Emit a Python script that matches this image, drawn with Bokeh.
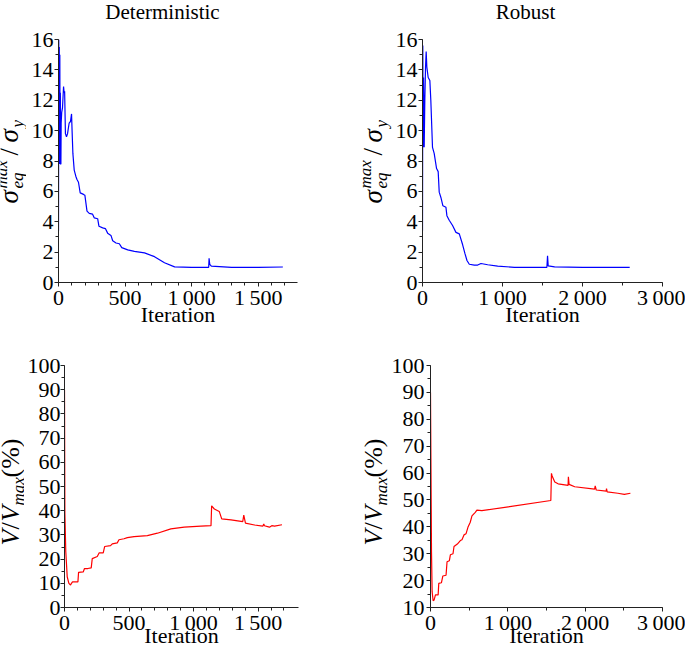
import math
from bokeh.plotting import figure
from bokeh.layouts import column, row
from bokeh.models import Range1d, FixedTicker, Label
from bokeh.embed import file_html
from bokeh.resources import INLINE

FONT = "Liberation Serif"

# ---------------- data ----------------
det_stress_it = [0, 2, 4, 6, 8, 10, 12, 14, 16, 18, 20, 24, 30, 38, 42, 46, 52, 60, 68, 80,
                 90, 98, 102, 108, 118, 130, 138, 150, 163, 188, 198, 214, 231, 256, 269, 294,
                 304, 332, 352, 369, 394, 407, 432, 457, 475, 520, 570, 646, 721, 796, 872,
                 1000, 1128, 1131, 1136, 1148, 1300, 1500, 1685]
det_stress = [3.4, 16.0, 8.0, 15.5, 7.8, 15.0, 8.0, 12.5, 7.8, 7.8, 10.5, 11.2, 11.5, 12.9,
              12.5, 12.6, 9.8, 9.6, 9.8, 10.5, 10.6, 11.1, 10.0, 8.5, 7.4, 7.0, 6.8, 6.6, 5.9,
              5.8, 5.75, 4.7, 4.55, 4.5, 4.25, 4.2, 3.7, 3.6, 3.55, 3.25, 3.1, 2.75, 2.6, 2.55,
              2.3, 2.15, 2.05, 1.95, 1.7, 1.3, 1.03, 1.0, 1.0, 1.6, 1.2, 1.08, 1.0, 1.0, 1.02]

rob_stress_it = [0, 4, 8, 13, 21, 29, 38, 46, 54, 71, 92, 104, 125, 146, 176, 196, 209, 230,
                 255, 293, 305, 334, 376, 418, 460, 501, 531, 556, 585, 648, 690, 731, 815, 940,
                 1149, 1555, 1563, 1571, 1651, 2000, 2300, 2590]
rob_stress = [3.4, 15.6, 8.9, 13.5, 8.9, 12.0, 14.2, 15.2, 14.2, 13.5, 13.3, 12.0, 8.9, 8.5,
              7.5, 7.3, 5.95, 5.6, 5.05, 4.95, 4.4, 4.1, 3.75, 3.3, 3.2, 2.5, 1.9, 1.45, 1.2,
              1.15, 1.15, 1.25, 1.17, 1.08, 1.0, 1.0, 1.76, 1.1, 1.03, 1.0, 1.0, 1.0]

det_vol_it = [0, 3, 10, 21, 34, 47, 54, 62, 85, 104, 109, 145, 155, 181, 207, 215, 254, 269,
              300, 311, 357, 370, 409, 422, 461, 487, 539, 642, 720, 824, 927, 1057, 1135,
              1140, 1161, 1199, 1218, 1290, 1381, 1389, 1402, 1472, 1536, 1544, 1549, 1588,
              1606, 1627, 1685]
det_vol = [90, 39, 23, 12.7, 10, 9.3, 10, 10.6, 10.6, 10.6, 14.5, 14.7, 16.1, 16.1, 16.4,
           20.2, 21.1, 22.6, 22.6, 25.2, 25.6, 26.3, 26.7, 28, 28.4, 28.9, 29.3, 29.7, 30.7,
           32.5, 33.2, 33.6, 33.8, 42, 40.7, 39.7, 36.6, 36.2, 35.5, 38.2, 34.9, 34.1, 33.6,
           34.5, 33.8, 33.2, 33.8, 33.6, 34.2]

rob_vol_it = [0, 13, 21, 34, 47, 64, 99, 107, 141, 159, 201, 214, 244, 257, 291, 304, 347,
              386, 407, 433, 459, 484, 514, 536, 579, 600, 664, 1556, 1564, 1573, 1607, 1650,
              1779, 1783, 1792, 1865, 2122, 2130, 2143, 2272, 2276, 2285, 2422, 2507, 2585]
rob_vol = [90, 30.6, 15.9, 12.5, 12.8, 14.7, 14.7, 19, 19.2, 21.7, 22, 27, 27.4, 29.6, 30,
           32.7, 33.6, 34.9, 35.2, 37, 37.4, 39.8, 41.7, 44.1, 45.4, 46.2, 46, 49.8, 59.9,
           58.9, 56.7, 56, 55.4, 58.6, 55.8, 54.9, 54, 55.2, 53.7, 53.3, 54.2, 53, 52.5, 52.1,
           52.5]

titles = ["Deterministic", "Robust"]
x_label = "Iteration"

det_x_ticks = [0, 500, 1000, 1500]
det_x_minor = list(range(0, 1800, 100))
rob_x_ticks = [0, 1000, 2000, 3000]
rob_x_minor = [0, 500, 1000, 1500, 2000, 2500, 3000]
tick_names = {0: "0", 500: "500", 1000: "1\u2009000", 1500: "1\u2009500",
              2000: "2\u2009000", 3000: "3\u2009000"}
stress_ticks = list(range(0, 17, 2))
stress_minor = list(range(0, 17, 1))
vol_ticks_det = list(range(0, 101, 10))
vol_ticks_rob = list(range(10, 101, 10))
vol_minor = list(range(0, 101, 5))

sigma_pieces = [("σ", 27, "italic", 0, 15), ("max", 17, "italic", -11, 0),
                ("eq", 17, "italic", 5, 33), ("/", 27, "normal", 0, 13),
                ("σ", 27, "italic", 0, 15), ("y", 17, "italic", 5, 8)]
vol_pieces = [("V", 26, "italic", 0, 16), ("/", 26, "normal", 0, 8),
              ("V", 26, "italic", 0, 16), ("max", 17, "italic", 5, 28),
              ("(%)", 26, "normal", 0, 39)]

BOX_SHIFT = 0.3385  # distance (in em) between text-box centre and baseline


def panel(left, top, width, height, fl, ft, fw, fh, xr, yr, xt, xm, yt, ym, ystand, xlab_stand):
    bl = fl - left
    bt = ft - top
    p = figure(width=width, height=height, x_range=Range1d(*xr), y_range=Range1d(*yr),
               output_backend="svg", toolbar_location=None,
               min_border_left=bl, min_border_top=bt,
               min_border_right=width - bl - fw, min_border_bottom=height - bt - fh)
    p.outline_line_color = None
    p.xgrid.visible = False
    p.ygrid.visible = False
    p.background_fill_color = "white"
    p.border_fill_color = "white"
    p.xaxis.ticker = FixedTicker(ticks=xt, minor_ticks=xm)
    p.yaxis.ticker = FixedTicker(ticks=yt, minor_ticks=ym)
    p.xaxis.major_label_overrides = dict(tick_names)
    for ax in (p.xaxis[0], p.yaxis[0]):
        ax.axis_line_color = "#222222"
        ax.axis_line_width = 1
        ax.major_tick_in = 0
        ax.major_tick_out = 4
        ax.minor_tick_in = 0
        ax.minor_tick_out = 3
        ax.major_tick_line_color = "#222222"
        ax.minor_tick_line_color = "#222222"
        ax.major_label_text_font = FONT
        ax.major_label_text_font_size = "22px"
        ax.major_label_text_color = "black"
    p.xaxis.major_label_standoff = -2
    p.yaxis.major_label_standoff = ystand
    p.xaxis.axis_label = x_label
    p.xaxis.axis_label_text_font = FONT
    p.xaxis.axis_label_text_font_size = "22px"
    p.xaxis.axis_label_text_font_style = "normal"
    p.xaxis.axis_label_text_color = "black"
    p.xaxis.axis_label_standoff = xlab_stand
    return p


def strip(left, width, frame_top, frame_h, total_h):
    # in a row, Bokeh aligns this strip's frame with the neighbouring plot's frame
    s = figure(width=width, height=total_h, x_range=Range1d(0, width),
               y_range=Range1d(0, frame_h), output_backend="svg", toolbar_location=None,
               x_axis_type=None, y_axis_type=None, title=None, min_border=0,
               min_border_left=0, min_border_right=0, min_border_top=0, min_border_bottom=0)
    s.outline_line_color = None
    s.grid.visible = False
    s.background_fill_color = "white"
    s.border_fill_color = "white"
    return (s, left, frame_top + frame_h)


def text_at(st, txt, page_x, page_y, size, align="center", style="normal", angle=0.0):
    s, left, bottom = st
    s.add_layout(Label(x=page_x - left, y=bottom - page_y, text=txt, angle=angle,
                       text_font=FONT, text_font_size=f"{size}px", text_font_style=style,
                       text_align=align, text_baseline="middle", text_color="black"))


def vlabel(st, pieces, base_x, start_y):
    y = start_y
    for txt, size, style, shift, adv in pieces:
        text_at(st, txt, base_x + shift - BOX_SHIFT * size, y, size, align="left",
                style=style, angle=math.pi / 2)
        y -= adv


# title strip (page y 0..26)
ts = strip(0, 685, 0, 26, 26)
text_at(ts, titles[0], 162, 18.8 - BOX_SHIFT * 21, 21)
text_at(ts, titles[1], 525, 18.8 - BOX_SHIFT * 21, 21)

# top row (page y 26..338), frames 39..282
T0, TH = 26, 312
lab_tl = strip(0, 26, 39, 243, TH)
vlabel(lab_tl, sigma_pieces, 18, 203)
tl = panel(26, T0, 322, TH, 58, 39, 239, 243, (0, 1795), (0, 16),
           det_x_ticks, det_x_minor, stress_ticks, stress_minor, 1, -11)
tl.line(det_stress_it, det_stress, line_color="#0000ff", line_width=1.2)

lab_tr = strip(348, 44, 39, 243, TH)
vlabel(lab_tr, sigma_pieces, 382, 203)
tr = panel(392, T0, 293, TH, 422, 39, 240, 243, (0, 3000), (0, 16),
           rob_x_ticks, rob_x_minor, stress_ticks, stress_minor, 1, -11)
tr.line(rob_stress_it, rob_stress, line_color="#0000ff", line_width=1.2)

# bottom row (page y 338..650), frames 365..607
B0, BH = 338, 312
lab_bl = strip(0, 24, 365, 242, BH)
vlabel(lab_bl, vol_pieces, 19, 545)
bl = panel(24, B0, 324, BH, 64, 365, 234, 242, (0, 1813), (0, 100),
           det_x_ticks, det_x_minor, vol_ticks_det, vol_minor, 0, -15)
bl.line(det_vol_it, det_vol, line_color="#ff0000", line_width=1.2)

lab_br = strip(348, 40, 365, 242, BH)
vlabel(lab_br, vol_pieces, 382, 545)
br = panel(388, B0, 297, BH, 428, 365, 234, 242, (0, 3000), (10, 100),
           rob_x_ticks, rob_x_minor, vol_ticks_rob, vol_minor, 2, -15)
br.line(rob_vol_it, rob_vol, line_color="#ff0000", line_width=1.2)

layout = column(ts[0], row(lab_tl[0], tl, lab_tr[0], tr), row(lab_bl[0], bl, lab_br[0], br))
open("out.html", "w").write(file_html(layout, INLINE))
